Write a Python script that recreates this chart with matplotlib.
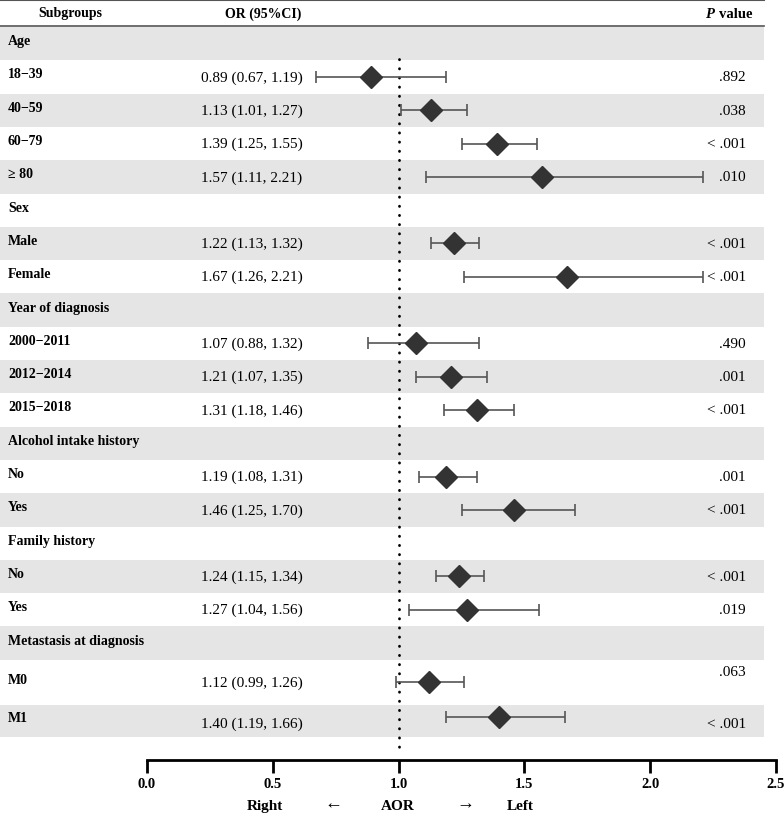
import matplotlib
matplotlib.use('Agg')
from matplotlib import pyplot as plt
import numpy as np

plt.rcParams['font.family'] = ['Liberation Serif', 'DejaVu Serif']

# rows of the table (None = group header row)
labels = ['Age', '18\u221239', '40\u221259', '60\u221279', '\u2265 80',
          'Sex', 'Male', 'Female',
          'Year of diagnosis', '2000\u22122011', '2012\u22122014', '2015\u22122018',
          'Alcohol intake history', 'No', 'Yes',
          'Family history', 'No', 'Yes',
          'Metastasis at diagnosis', 'M0', 'M1']
ors = [None, 0.89, 1.13, 1.39, 1.57,
       None, 1.22, 1.67,
       None, 1.07, 1.21, 1.31,
       None, 1.19, 1.46,
       None, 1.24, 1.27,
       None, 1.12, 1.40]
lows = [None, 0.67, 1.01, 1.25, 1.11,
        None, 1.13, 1.26,
        None, 0.88, 1.07, 1.18,
        None, 1.08, 1.25,
        None, 1.15, 1.04,
        None, 0.99, 1.19]
highs = [None, 1.19, 1.27, 1.55, 2.21,
         None, 1.32, 2.21,
         None, 1.32, 1.35, 1.46,
         None, 1.31, 1.70,
         None, 1.34, 1.56,
         None, 1.26, 1.66]
pvals = [None, '.892', '.038', '< .001', '.010',
         None, '< .001', '< .001',
         None, '.490', '.001', '< .001',
         None, '.001', '< .001',
         None, '< .001', '.019',
         None, '.063', '< .001']
xticks = [0.0, 0.5, 1.0, 1.5, 2.0, 2.5]

# row geometry (pixels)
heights = [33.3] * 19 + [45, 32]
tops = 28 + np.concatenate([[0], np.cumsum(heights)[:-1]])
centers = tops + np.array(heights) / 2

fig = plt.figure(figsize=(7.84, 8.2), dpi=100)
bg = fig.add_axes([0, 0, 1, 1])
bg.set_xlim(0, 784)
bg.set_ylim(820, 0)
bg.axis('off')

# zebra bands
for i, (t, h) in enumerate(zip(tops, heights)):
    if i % 2 == 0:
        bg.add_patch(plt.Rectangle((0, t), 764, h, color='#e5e5e5', lw=0, zorder=0))

# header
bg.plot([0, 764], [1, 1], color='#555555', lw=1.5)
bg.plot([0, 764], [27, 27], color='#555555', lw=1.2)
bg.text(70, 14, 'Subgroups', ha='center', va='center', fontsize=10, fontweight='bold')
bg.text(263, 14, 'OR (95%CI)', ha='center', va='center', fontsize=10, fontweight='bold')
bg.text(705, 14, 'P', ha='left', va='center', fontsize=10.5, fontweight='bold', fontstyle='italic')
bg.text(753, 14, 'value', ha='right', va='center', fontsize=10.5, fontweight='bold')

for i, lab in enumerate(labels):
    c = centers[i]
    bg.text(8, c - 3, lab, ha='left', va='center', fontsize=10, fontweight='bold')
    if ors[i] is not None:
        off = 3 if i == 20 else 0
        bg.text(252, c + off, '%.2f (%.2f, %.2f)' % (ors[i], lows[i], highs[i]),
                ha='center', va='center', fontsize=11)
        poff = -11 if i == 19 else (3 if i == 20 else 0)
        bg.text(746, c + poff, pvals[i], ha='right', va='center', fontsize=11)

# forest plot
ax = fig.add_axes([147 / 784, (820 - 761) / 820, 629 / 784, (761 - 28) / 820])
ax.patch.set_alpha(0)
ax.set_xlim(0, 2.5)
ax.set_ylim(761, 28)
for s in ['top', 'left', 'right']:
    ax.spines[s].set_visible(False)
ax.spines['bottom'].set_linewidth(2)
ax.set_yticks([])
ax.set_xticks(xticks)
ax.set_xticklabels(['%.1f' % t for t in xticks], fontsize=10.5, fontweight='bold')
ax.tick_params(axis='x', length=9, width=2, pad=3)

ax.plot([1, 1], [60, 752], color='black', lw=2, ls=(0, (0.1, 3.2)), dash_capstyle='round')

for i in range(len(labels)):
    if ors[i] is None:
        continue
    y = centers[i] - (4 if i == 20 else 0)
    ax.errorbar(ors[i], y, xerr=[[ors[i] - lows[i]], [highs[i] - ors[i]]],
                fmt='D', color='#333333', ms=11, ecolor='#555555', elinewidth=1.2,
                capsize=4, capthick=1.2, zorder=3)

bg.text(265, 807, 'Right', ha='center', va='center', fontsize=11, fontweight='bold')
bg.text(333, 804, '\u2190', ha='center', va='center', fontsize=13, fontweight='bold')
bg.text(398, 807, 'AOR', ha='center', va='center', fontsize=11, fontweight='bold')
bg.text(465, 804, '\u2192', ha='center', va='center', fontsize=13, fontweight='bold')
bg.text(520, 807, 'Left', ha='center', va='center', fontsize=11, fontweight='bold')

fig.savefig('out.png', dpi=100)
